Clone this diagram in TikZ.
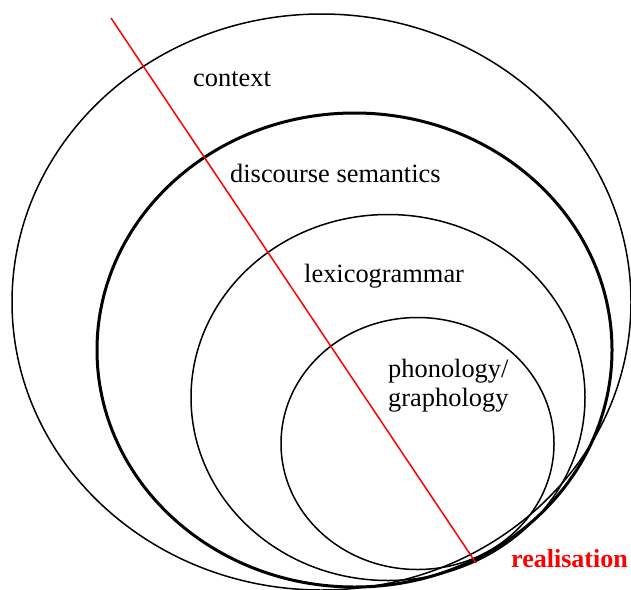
\documentclass[tikz,border=0pt]{standalone}
\usepackage{fontspec}
\setmainfont{Liberation Serif}
\usetikzlibrary{shapes.geometric}
\begin{document}
\begin{tikzpicture}[x=1pt,y=-1pt,
  stratum/.style={draw=black,ellipse,inner sep=0pt,outer sep=0pt,line width=1.5pt},
  thickstratum/.style={stratum,line width=3pt},
  label/.style={inner sep=0pt,anchor=base west,font=\fontsize{26.4}{29}\selectfont},
  realline/.style={draw=red,line width=1.5pt}]
\useasboundingbox (0,0) rectangle (631,589);
% nested strata, all meeting near the lower right
\node[stratum,minimum width=619pt,minimum height=576pt] (context) at (321.5,302) {};
\node[thickstratum,minimum width=515pt,minimum height=474pt] (discourse) at (354.5,350) {};
\node[stratum,minimum width=394pt,minimum height=366pt] (lexico) at (388,397.5) {};
\node[stratum,minimum width=273pt,minimum height=252pt] (phono) at (417.5,443.5) {};
% stratum names
\node[label] (tcontext) at (193,86) {context};
\node[label] (tdiscourse) at (230,182) {discourse semantics};
\node[label] (tlexico) at (304,282) {lexicogrammar};
\node[label] (tphono) at (388,377) {phonology/};
\node[label] (tgraph) at (388,406) {graphology};
% realisation axis
\coordinate (rtop) at (111,18);
\coordinate (rbot) at (476,563);
\draw[realline] (rtop) -- (rbot);
\node[label,text=red,font=\fontsize{26}{29}\selectfont\bfseries] (treal) at (511,567) {realisation};
\end{tikzpicture}
\end{document}
